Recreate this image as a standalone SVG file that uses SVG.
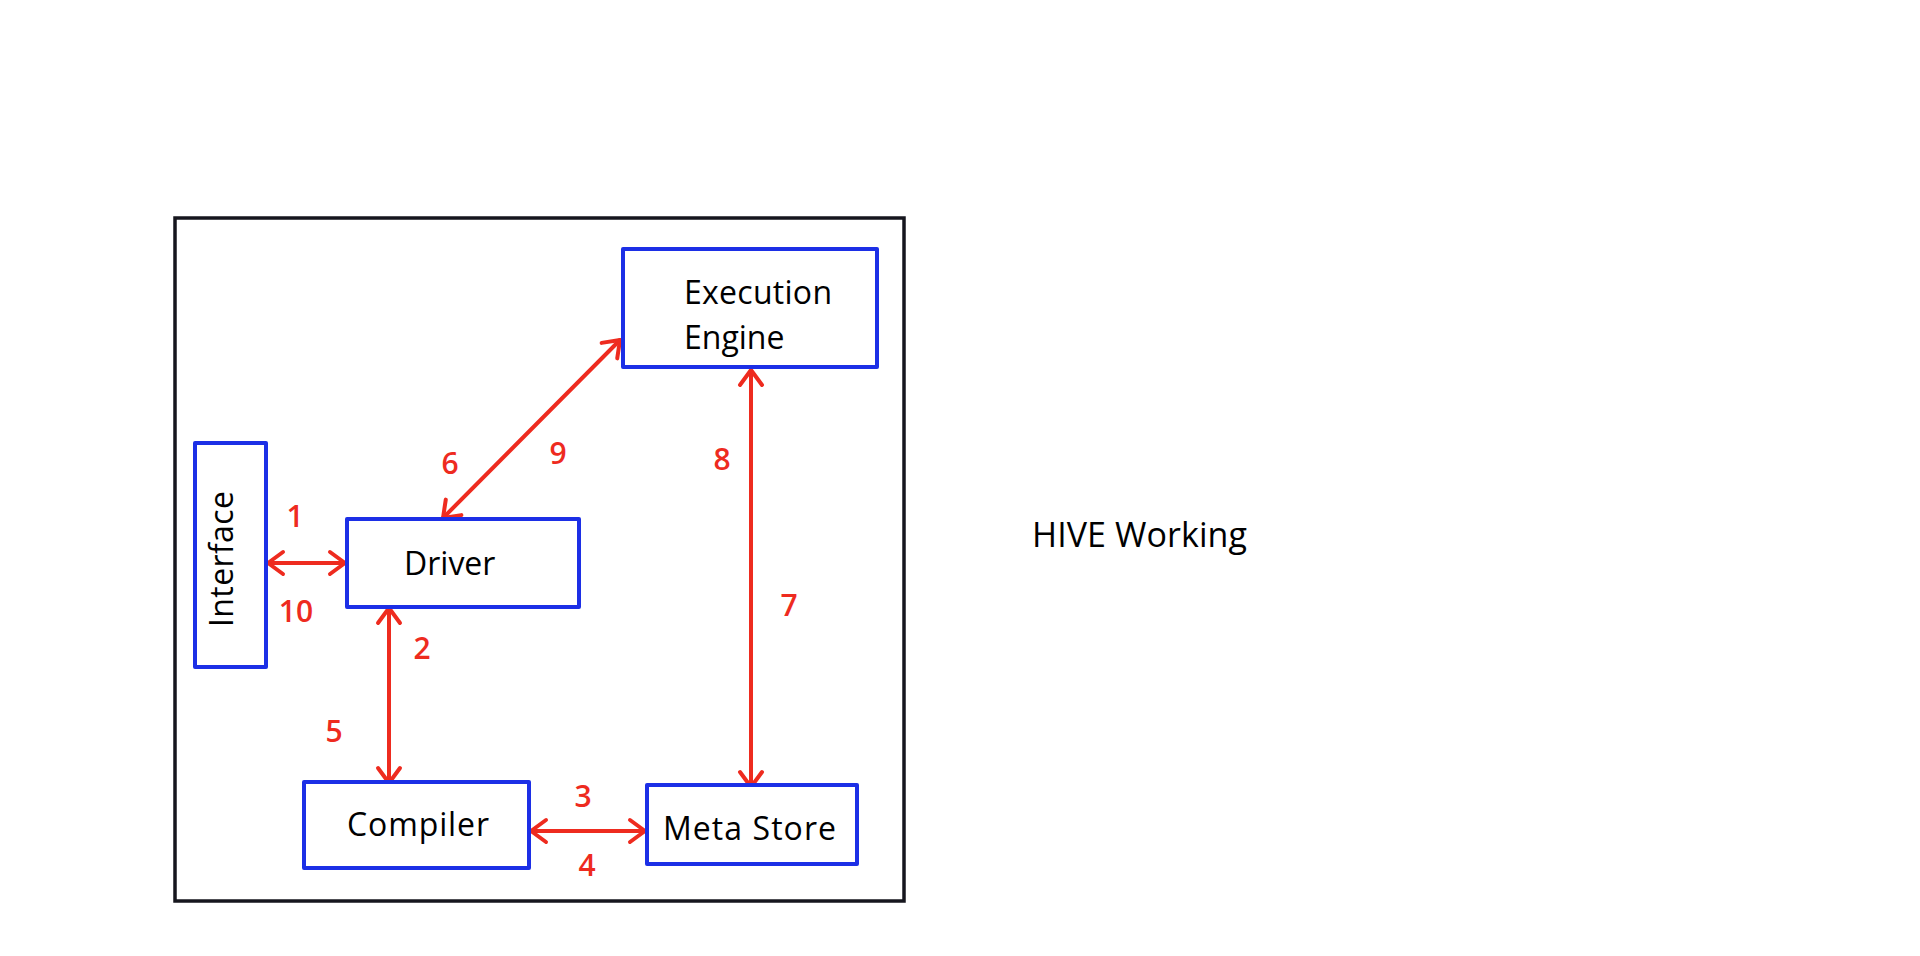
<svg xmlns="http://www.w3.org/2000/svg" width="1920" height="956" viewBox="0 0 1920 956">
<style>
.frame{fill:none;stroke:#16161e;stroke-width:3.5}
.box{fill:#fff;stroke:#1c2fe6;stroke-width:4;stroke-linejoin:round}
.lbl{font-family:"Open Sans","Noto Sans",sans-serif;font-size:32px;fill:#000}
.num{font-family:"Open Sans","Noto Sans",sans-serif;font-size:30px;font-weight:600;fill:#ee2b1f;text-anchor:middle;dominant-baseline:central}
.conn{fill:none;stroke:#ee2b1f;stroke-width:4;stroke-linecap:round;marker-start:url(#ah);marker-end:url(#ah)}
</style>
<defs>
<marker id="ah" markerUnits="userSpaceOnUse" viewBox="-20 -14 24 28" refX="0" refY="0" markerWidth="24" markerHeight="28" orient="auto-start-reverse">
<path d="M -15 -11 L 0 0 L -15 11" fill="none" stroke="#ee2b1f" stroke-width="4" stroke-linecap="round" stroke-linejoin="round"/>
</marker>
</defs>
<rect width="1920" height="956" fill="#fff"/>
<rect class="frame" x="175" y="218" width="729" height="683"/>
<g id="connectors">
<line class="conn" x1="268" y1="563" x2="345" y2="563"/>
<line class="conn" x1="443" y1="518" x2="620" y2="340"/>
<line class="conn" x1="389" y1="608" x2="389" y2="783"/>
<line class="conn" x1="751" y1="370" x2="751" y2="787"/>
<line class="conn" x1="531" y1="831" x2="645" y2="831"/>
</g>
<g id="exec-engine">
<rect class="box" x="623" y="249" width="254" height="118"/>
<text class="lbl" x="684" y="304" textLength="148">Execution</text>
<text class="lbl" x="684" y="349">Engine</text>
</g>
<g id="interface">
<rect class="box" x="195" y="443" width="71" height="224"/>
<text class="lbl" transform="translate(233,627) rotate(-90)" textLength="136">Interface</text>
</g>
<g id="driver">
<rect class="box" x="347" y="519" width="232" height="88"/>
<text class="lbl" x="404" y="575">Driver</text>
</g>
<g id="compiler">
<rect class="box" x="304" y="782" width="225" height="86"/>
<text class="lbl" x="347" y="836" textLength="142">Compiler</text>
</g>
<g id="meta-store">
<rect class="box" x="647" y="785" width="210" height="79"/>
<text class="lbl" x="663" y="840" textLength="173">Meta Store</text>
</g>
<g id="labels">
<text class="num" x="295" y="515">1</text>
<text class="num" x="296" y="610">10</text>
<text class="num" x="450" y="462">6</text>
<text class="num" x="558" y="452">9</text>
<text class="num" x="722" y="458">8</text>
<text class="num" x="789" y="604">7</text>
<text class="num" x="422" y="647">2</text>
<text class="num" x="334" y="730">5</text>
<text class="num" x="583" y="795">3</text>
<text class="num" x="587" y="864">4</text>
</g>
<text id="title" class="lbl" x="1032" y="547" style="font-size:34px" textLength="215">HIVE Working</text>
</svg>
